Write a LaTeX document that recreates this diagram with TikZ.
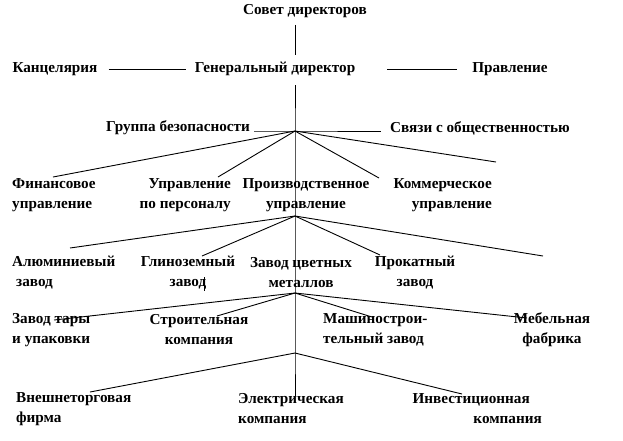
\documentclass[tikz,border=0pt]{standalone}
\usepackage{fontspec}
\setmainfont{Liberation Serif}
\tikzset{
	unit/.style={font=\fontsize{15.2}{20}\selectfont\bfseries, inner sep=2pt},
	link/.style={draw, line width=0.9pt}
}
\begin{document}
\begin{tikzpicture}[x=1pt, y=-1pt]
	\useasboundingbox (0,0) rectangle (623,440);
	\node[unit] (sovet) at (305,11) {Совет директоров};
	\node[unit] (gendir) at (275,69) {Генеральный директор};
	\node[unit] (kanc) at (55,69) {Канцелярия};
	\node[unit] (pravl) at (510,69) {Правление};
	\node[unit] (grupp) at (178,128) {Группа безопасности};
	\node[unit] (svyazi) at (480,128) {Связи с общественностью};

	\node[unit, align=left, anchor=west] (fin) at (10,195) {Финансовое\\управление};
	\node[unit, align=right, anchor=east] (kadry) at (233,195) {Управление\\по персоналу};
	\node[unit, align=center] (proizv) at (306,195) {Производственное\\управление};
	\node[unit, align=right, anchor=east] (komm) at (494,195) {Коммерческое\\управление};

	\node[unit, align=left, anchor=west] (alum) at (10,273) {Алюминиевый\\\hspace*{4pt}завод};
	\node[unit, align=center] (glin) at (188,273) {Глиноземный\\завод};
	\node[unit, align=center] (zcm) at (301,273) {Завод цветных\\металлов};
	\node[unit, align=center] (prok) at (415,273) {Прокатный\\завод};

	\node[unit, align=left, anchor=west] (tara) at (10,330) {Завод тары\\и упаковки};
	\node[unit, align=center] (stroi) at (199,330) {Строительная\\компания};
	\node[unit, align=left, anchor=west] (mash) at (321,330) {Машинострои-\\тельный завод};
	\node[unit, align=center] (mebel) at (552,330) {Мебельная\\фабрика};

	\node[unit, align=left, anchor=west] (vnesh) at (14,409) {Внешнеторговая\\фирма};
	\node[unit, align=left, anchor=west] (elektr) at (236,409) {Электрическая\\компания};
	\node[unit, align=right, anchor=east] (invest) at (544,409) {Инвестиционная\hspace*{12pt}\\компания};

	\coordinate (hubA) at (295,131);
	\coordinate (hubB) at (295,216);
	\coordinate (hubC) at (295,293);
	\coordinate (hubD) at (295,353);
	\coordinate (trunkEnd) at (295,396);

	\coordinate (finEnd) at (53,177);
	\coordinate (kadryEnd) at (218,177);
	\coordinate (kommEnd) at (379,178);
	\coordinate (freeA) at (496,162);
	\coordinate (alumEnd) at (70,248);
	\coordinate (glinEnd) at (202,256);
	\coordinate (prokEnd) at (380,255);
	\coordinate (freeB) at (543,256);
	\coordinate (taraEnd) at (54,320);
	\coordinate (stroiEnd) at (217,316);
	\coordinate (mashEnd) at (372,317);
	\coordinate (mebelEnd) at (527,318);
	\coordinate (vneshEnd) at (90,392);
	\coordinate (investEnd) at (462,394);

	\draw[link, shorten <=5pt, shorten >=5pt] (sovet.south -| hubA) -- (gendir.north -| hubA);
	\draw[link, shorten <=9pt, shorten >=7pt] (kanc) -- (gendir);
	\draw[link, shorten <=30pt, shorten >=13pt] (gendir) -- (pravl);
	\draw[link, shorten <=7pt] (gendir.south -| hubA) -- (hubA) -- (hubB) -- (hubC) -- (hubD) -- (trunkEnd);
	\draw[link, shorten <=2pt, shorten >=7pt] (grupp.east |- hubA) -- (hubA) -- (svyazi.west |- hubA);

	\draw[link] (hubA) -- (finEnd);
	\draw[link] (hubA) -- (kadryEnd);
	\draw[link] (hubA) -- (kommEnd);
	\draw[link] (hubA) -- (freeA);

	\draw[link] (hubB) -- (alumEnd);
	\draw[link] (hubB) -- (glinEnd);
	\draw[link] (hubB) -- (prokEnd);
	\draw[link] (hubB) -- (freeB);

	\draw[link] (hubC) -- (taraEnd);
	\draw[link] (hubC) -- (stroiEnd);
	\draw[link] (hubC) -- (mashEnd);
	\draw[link] (hubC) -- (mebelEnd);

	\draw[link] (hubD) -- (vneshEnd);
	\draw[link] (hubD) -- (investEnd);

	\draw[line width=1pt] (204,277) -- (204,291);
\end{tikzpicture}
\end{document}
